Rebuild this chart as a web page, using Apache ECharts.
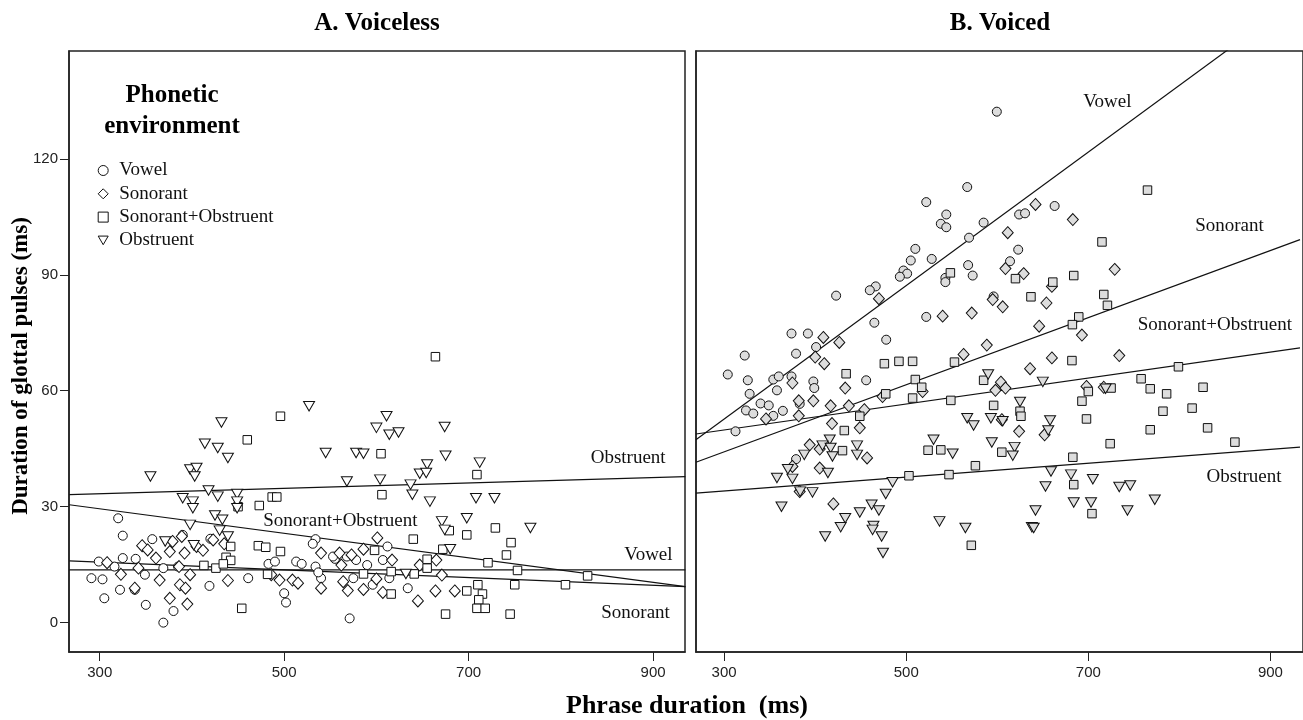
<!DOCTYPE html>
<html><head><meta charset="utf-8">
<script src="https://cdn.jsdelivr.net/npm/echarts@6/dist/echarts.min.js"></script>
<style>html,body{margin:0;padding:0;background:#fff}#c{width:1303px;height:720px}</style>
</head><body><div id="c"></div>
<script>
const categories = ['Vowel', 'Sonorant', 'Sonorant+Obstruent', 'Obstruent'];
const xTicks = [300, 500, 700, 900];
const yTicks = [0, 30, 60, 90, 120];

// ---- A. Voiceless ----
const voicelessVowel = [[320,27],[325,22.5],[357,21.6],[390,22.7],[299,15.8],[325,16.7],[316,14.5],[339,16.5],[291,11.5],[303,11.2],[305,6.3],[322,8.5],[338,8.5],[350,4.6],[349,12.4],[369,0],[380,3],[369,14.1],[385,14.5],[419,9.5],[420,21.7],[461,11.5],[483,15.2],[490,15.8],[500,7.6],[502,5.2],[513,15.8],[519,15.2],[534,21.6],[531,20.4],[534,14.5],[540,11.5],[537,13],[555,16.5],[571,1.1],[612,19.7],[607,16.2],[590,14.9],[578,16.2],[568,17.1],[553,17.1],[575,11.5],[596,9.8],[634,8.9],[614,11.5]];
const voicelessSonorant = [[308,15.5],[323,12.5],[346,19.9],[352,18.8],[361,16.7],[342,14.1],[338,8.9],[365,11],[376,6.3],[379,21],[376,18.4],[389,22.3],[386,14.5],[387,9.8],[393,8.9],[395,4.8],[398,12.4],[392,18],[405,19.7],[412,18.7],[423,21.4],[435,20.4],[439,10.9],[486,12.4],[495,11],[509,11],[515,10.2],[540,18],[540,8.9],[560,18],[564,10.6],[601,21.9],[586,19],[573,17.5],[617,16.2],[665,16.2],[647,14.9],[671,12.3],[569,8.3],[586,8.6],[607,7.8],[600,11.3],[645,5.6],[664,8.2],[685,8.2],[562,14.9]];
const voicelessSonObs = [[496,53.4],[460,47.3],[487,32.5],[492,32.5],[473,30.3],[450,30],[442,19.7],[472,19.9],[480,19.5],[496,18.4],[437,16.9],[442,16.1],[413,14.8],[426,14.1],[434,15.2],[482,12.5],[454,3.7],[664,68.8],[605,43.7],[606,33.1],[709,38.3],[679,23.8],[698,22.7],[729,24.5],[746,20.7],[741,17.5],[721,15.5],[753,13.5],[829,12.1],[805,9.8],[750,9.8],[672,19],[640,21.6],[655,16.4],[655,14.1],[641,12.6],[616,13.2],[616,7.4],[586,12.6],[598,18.7],[698,8.2],[710,9.8],[715,7.4],[711,5.9],[709,3.7],[718,3.7],[675,2.2],[745,2.2]];
const voicelessObstruent = [[527,56],[432,51.8],[414,46.3],[428,45.2],[439,42.6],[545,43.9],[355,37.8],[398,39.6],[405,40],[403,37.8],[418,34.2],[390,32.2],[401,31.3],[401,29.6],[428,32.6],[449,33.3],[449,31.3],[449,29.6],[398,25.3],[425,27.7],[433,26.6],[430,23.8],[439,22.3],[568,36.5],[371,21],[402,20],[611,53.4],[600,50.4],[614,48.6],[624,49.2],[674,50.6],[578,43.9],[586,43.7],[675,43.2],[712,41.4],[655,40.9],[647,38.5],[654,38.7],[604,37],[637,35.7],[639,33.1],[658,31.3],[708,32.2],[728,32.2],[671,26.2],[674,24],[698,27],[767,24.5],[680,19],[632,12.6]];
const fitVoicelessVowel = [[267,13.65],[935,13.65]];
const fitVoicelessSonorant = [[267,16],[935,9.3]];
const fitVoicelessSonObs = [[267,30.5],[935,9.3]];
const fitVoicelessObstruent = [[267,33.1],[935,37.8]];
const labelsVoiceless = [[873,42.5,'Obstruent'],[561,26.3,'Sonorant+Obstruent'],[895,17.5,'Vowel'],[881,2.4,'Sonorant']];

// ---- B. Voiced ----
const voicedVowel = [[599.5,132.2],[567,112.7],[522,108.8],[544,105.6],[538,103.2],[544,102.3],[585,103.5],[569,99.6],[510,96.7],[505,93.7],[528,94.1],[497,91.1],[501,90.3],[493,89.5],[568,92.5],[573,89.8],[543,89.2],[543,88.1],[466.5,87],[460,86],[423,84.6],[465,77.6],[522,79.1],[478,73.2],[374,74.8],[392,74.8],[401,71.3],[379,69.6],[322.6,69.1],[596,84.4],[624,105.6],[630.5,105.9],[663,107.8],[623,96.5],[614,93.5],[304,64.2],[326,62.7],[328,59.2],[354,62.9],[360,63.7],[358,60.1],[374,63.7],[398,62.4],[399,60.7],[324,54.9],[332,54.1],[340,56.7],[349,56.2],[354,53.5],[364.5,54.8],[383,56.6],[456,62.7],[312.5,49.5],[379,42.3]];
const voicedSonorant = [[470,83.8],[409,73.8],[426.5,72.5],[540,79.3],[572,80.1],[595,83.6],[588.5,71.8],[563,69.4],[400,68.7],[642,108.2],[683,104.3],[611.5,100.9],[609,91.6],[629,90.3],[660,87],[729,91.4],[606,81.7],[654,82.7],[646,76.7],[693,74.4],[734,69.1],[660,68.5],[410,67],[375,62],[382,57.4],[398,57.4],[382,53.5],[346,52.7],[433,60.7],[417,56.1],[437,56.1],[454,55.1],[418.5,51.5],[449,50.4],[518,59.8],[474,58.5],[598,60.1],[394,46],[405,44.9],[457,42.6],[405,40],[375,40.4],[420,30.7],[383,33.9],[636,65.7],[604,62.2],[609,60.7],[698,61.1],[717,60.9],[605,52.5],[624,49.5],[652,48.6]];
const voicedSonObs = [[548.5,90.5],[765,111.9],[715,98.5],[684,89.8],[620,89],[661,88.1],[637,84.3],[717,84.9],[721,82.1],[689.5,79.1],[682.5,77.1],[682,67.8],[476,67],[492,67.6],[507,67.6],[553,67.4],[434,64.4],[510,62.9],[517,60.9],[507,58.1],[477.5,59.2],[549,57.5],[585,62.7],[596,56.2],[449,53.4],[432,49.7],[430,44.5],[524,44.6],[538,44.7],[503,38],[547,38.3],[576,40.6],[571.5,20],[799,66.2],[758,63.1],[768,60.5],[786,59.2],[826,60.9],[725,60.7],[700,59.8],[693,57.3],[782,54.7],[814,55.5],[625,54.7],[626,53.4],[698,52.7],[768,49.9],[831,50.4],[724,46.3],[861,46.7],[605,44.1],[683,42.8],[684,35.7],[704,28.2]];
const voicedObstruent = [[590,64.2],[567,52.9],[574,51],[593,52.9],[594,46.6],[530,47.3],[551,43.7],[416,47.3],[408,45.8],[417,45.2],[388,43.4],[419,43],[446,45.8],[446,43.4],[370,39.7],[414,38.7],[358,37.4],[375,37.2],[383.5,33.9],[397,33.7],[363,30],[485,36.3],[477.5,33.3],[462,30.5],[470,29],[449,28.5],[433,27],[428,24.7],[464,25],[463,24],[473,22.3],[411,22.3],[474.5,18],[536.5,26.2],[565,24.5],[650,62.3],[625,57.1],[606,52.1],[658,52.3],[656,49.7],[619,45.4],[617,43.2],[719,60.5],[659,39.1],[681,38.3],[653,35.2],[705,37.1],[734,35.1],[746,35.5],[773,31.8],[684,31.1],[703,31.1],[743,29],[642,29],[638,24.7],[640,24.5]];
const fitVoicedVowel = [[269,47.3],[936,162.5]];
const fitVoicedSonorant = [[269,41.5],[932.5,99.1]];
const fitVoicedSonObs = [[269,48.8],[932.5,71.1]];
const fitVoicedObstruent = [[269,33.5],[932.5,45.4]];
const labelsVoiced = [[721,134.6,'Vowel'],[855,102.6,'Sonorant'],[839,77.1,'Sonorant+Obstruent'],[871,37.7,'Obstruent']];

const SERIF = '"Liberation Serif", "Times New Roman", serif';
const SANS = '"Liberation Sans", Arial, sans-serif';
const symbols = {
  'Vowel': {symbol: 'circle', size: 9, rotate: 0, icon: 'circle'},
  'Sonorant': {symbol: 'diamond', size: [11, 12], rotate: 0, icon: 'diamond'},
  'Sonorant+Obstruent': {symbol: 'rect', size: 8.5, rotate: 0, icon: 'rect'},
  'Obstruent': {symbol: 'triangle', size: [11, 9.5], rotate: 180, icon: 'path://M0,0L11,0L5.5,9.5Z'}
};

function scatter(name, data, idx, fill) {
  const s = symbols[name];
  return {
    type: 'scatter', name: name, xAxisIndex: idx, yAxisIndex: idx, data: data,
    symbol: s.symbol, symbolSize: s.size, symbolRotate: s.rotate,
    itemStyle: {color: fill, borderColor: '#111', borderWidth: 1, opacity: 1},
    emphasis: {disabled: true}, silent: true, z: 3
  };
}
function fit(id, data, idx) {
  return {
    type: 'line', name: id, xAxisIndex: idx, yAxisIndex: idx, data: data,
    showSymbol: false, symbol: 'none', clip: true,
    lineStyle: {color: '#111', width: 1.2}, emphasis: {disabled: true}, silent: true, z: 2
  };
}
function labels(id, data, idx) {
  return {
    type: 'scatter', name: id, xAxisIndex: idx, yAxisIndex: idx, data: data,
    symbolSize: 2, itemStyle: {color: 'rgba(255,255,255,0)'}, silent: true, z: 5,
    label: {show: true, position: 'inside', formatter: p => p.value[2],
      fontFamily: SERIF, fontSize: 19, color: '#111', opacity: 1}
  };
}
function xAxis(idx, min, max) {
  return {
    type: 'value', gridIndex: idx, min: min, max: max,
    axisLine: {show: true, onZero: false, lineStyle: {color: '#222', width: 1.5}},
    axisTick: {show: true, customValues: xTicks, length: 9, lineStyle: {color: '#222', width: 1}},
    axisLabel: {show: true, customValues: xTicks, margin: 13, fontFamily: SANS, fontSize: 15, color: '#222'},
    splitLine: {show: false}
  };
}
function yAxis(idx, showLabels) {
  return {
    type: 'value', gridIndex: idx, min: -7.6, max: 147.9,
    axisLine: {show: true, onZero: false, lineStyle: {color: '#222', width: 1.5}},
    axisTick: {show: showLabels, customValues: yTicks, length: 9, lineStyle: {color: '#222', width: 1}},
    axisLabel: {show: showLabels, customValues: yTicks, margin: 11, fontFamily: SANS, fontSize: 15, color: '#222'},
    splitLine: {show: false}
  };
}

const series = [
  scatter('Vowel', voicelessVowel, 0, '#ffffff'),
  scatter('Sonorant', voicelessSonorant, 0, '#ffffff'),
  scatter('Sonorant+Obstruent', voicelessSonObs, 0, '#ffffff'),
  scatter('Obstruent', voicelessObstruent, 0, '#ffffff'),
  scatter('Vowel', voicedVowel, 1, '#dddddd'),
  scatter('Sonorant', voicedSonorant, 1, '#dddddd'),
  scatter('Sonorant+Obstruent', voicedSonObs, 1, '#dddddd'),
  scatter('Obstruent', voicedObstruent, 1, '#dddddd'),
  fit('fitA1', fitVoicelessVowel, 0), fit('fitA2', fitVoicelessSonorant, 0),
  fit('fitA3', fitVoicelessSonObs, 0), fit('fitA4', fitVoicelessObstruent, 0),
  fit('fitB1', fitVoicedVowel, 1), fit('fitB2', fitVoicedSonorant, 1),
  fit('fitB3', fitVoicedSonObs, 1), fit('fitB4', fitVoicedObstruent, 1),
  labels('labA', labelsVoiceless, 0), labels('labB', labelsVoiced, 1)
];

const chart = echarts.init(document.getElementById('c'), null, {renderer: 'canvas'});
chart.setOption({
  animation: false,
  backgroundColor: '#ffffff',
  grid: [
    {left: 69, top: 51, width: 616, height: 601, show: true, borderColor: '#222', borderWidth: 1.5, backgroundColor: 'transparent'},
    {left: 696, top: 51, width: 610, height: 601, show: true, borderColor: '#222', borderWidth: 1.5, backgroundColor: 'transparent'}
  ],
  xAxis: [xAxis(0, 266.7, 934.6), xAxis(1, 269.1, 935.8)],
  yAxis: [yAxis(0, true), yAxis(1, false)],
  legend: {
    data: categories.map(c => ({name: c, icon: symbols[c].icon, itemStyle: {color: '#ffffff', borderColor: '#111', borderWidth: 1}})),
    orient: 'vertical', left: 97.7, top: 161, padding: 0,
    itemWidth: 10, itemHeight: 10, itemGap: 4.3, selectedMode: false, symbolRotate: 0,
    textStyle: {fontFamily: SERIF, fontSize: 19, color: '#111', lineHeight: 16, padding: [0, 0, 0, 6]}
  },
  graphic: [
    {type: 'text', x: 377, y: 24, style: {text: 'A. Voiceless', font: 'bold 25px ' + SERIF, fill: '#000', align: 'center', verticalAlign: 'middle'}},
    {type: 'text', x: 1000, y: 24, style: {text: 'B. Voiced', font: 'bold 25px ' + SERIF, fill: '#000', align: 'center', verticalAlign: 'middle'}},
    {type: 'text', x: 172, y: 96, style: {text: 'Phonetic', font: 'bold 25px ' + SERIF, fill: '#000', align: 'center', verticalAlign: 'middle'}},
    {type: 'text', x: 172, y: 127, style: {text: 'environment', font: 'bold 25px ' + SERIF, fill: '#000', align: 'center', verticalAlign: 'middle'}},
    {type: 'text', x: 687, y: 706, style: {text: 'Phrase duration  (ms)', font: 'bold 26px ' + SERIF, fill: '#000', align: 'center', verticalAlign: 'middle'}},
    {type: 'text', x: 21, y: 366, rotation: Math.PI / 2, style: {text: 'Duration of glottal pulses (ms)', font: 'bold 23px ' + SERIF, fill: '#000', align: 'center', verticalAlign: 'middle'}}
  ],
  series: series
});
</script>
</body></html>
